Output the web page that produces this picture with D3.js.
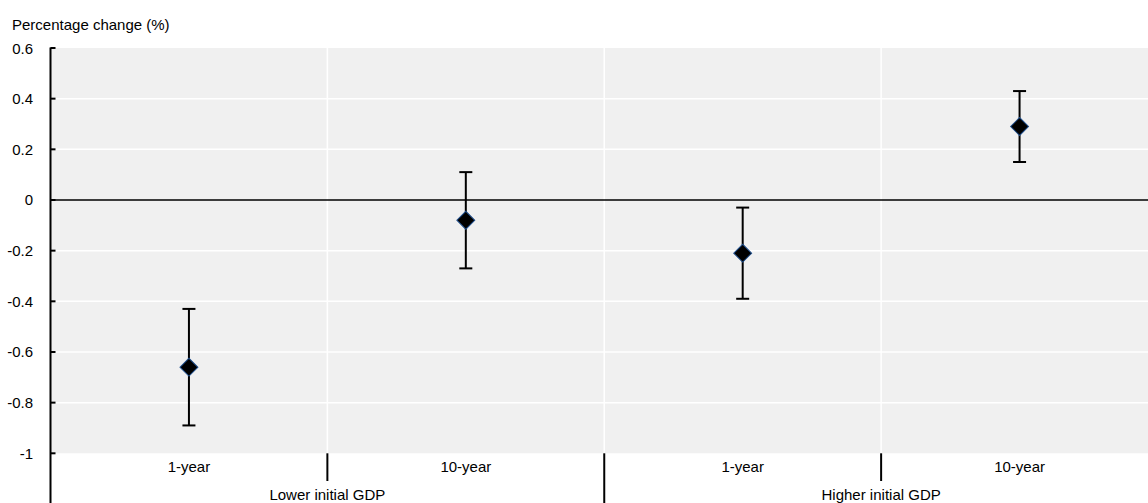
<!DOCTYPE html>
<html>
<head>
<meta charset="utf-8">
<script src="https://cdn.jsdelivr.net/npm/d3@7"></script>
<style>
  body { margin: 0; background: #fff; }
  text { font-family: "Liberation Sans", Arial, sans-serif; fill: #000; }
</style>
</head>
<body>
<svg id="chart" width="1148" height="503"></svg>
<script>
// data
const groups = ['Lower initial GDP', 'Higher initial GDP'];
const periods = ['1-year', '10-year'];
const estimate = [-0.66, -0.08, -0.21, 0.29];
const lower = [-0.89, -0.27, -0.39, 0.15];
const upper = [-0.43, 0.11, -0.03, 0.43];
const yTicks = [0.6, 0.4, 0.2, 0, -0.2, -0.4, -0.6, -0.8, -1];

const svg = d3.select('#chart');
const plotL = 50.5, plotT = 48, plotB = 453.3, plotR = 1158;

// one row per point
const rows = [];
groups.forEach((g, gi) => {
    periods.forEach((p, pi) => {
        const i = gi * periods.length + pi;
        rows.push({ key: g + '|' + p, group: g, period: p, est: estimate[i], lo: lower[i], hi: upper[i] });
    });
});

const x = d3.scaleBand().domain(rows.map(d => d.key)).range([plotL, plotR]);
const xg = d3.scaleBand().domain(groups).range([plotL, plotR]);
const y = d3.scaleLinear().domain([-1, 0.6]).range([plotB, plotT]);

// plot background
svg.append('rect')
    .attr('x', plotL).attr('y', plotT)
    .attr('width', plotR - plotL).attr('height', plotB - plotT)
    .attr('fill', '#f0f0f0');

// horizontal grid
svg.append('g').selectAll('line')
    .data(yTicks.filter(t => t !== 0 && t !== 0.6 && t !== -1))
    .join('line')
    .attr('x1', plotL).attr('x2', plotR)
    .attr('y1', d => y(d)).attr('y2', d => y(d))
    .attr('stroke', '#fff').attr('stroke-width', 1.5);

// vertical grid between categories
svg.append('g').selectAll('line')
    .data(rows.slice(1))
    .join('line')
    .attr('x1', d => x(d.key)).attr('x2', d => x(d.key))
    .attr('y1', plotT).attr('y2', plotB)
    .attr('stroke', '#fff').attr('stroke-width', 1.5);

// zero line
svg.append('line')
    .attr('x1', plotL).attr('x2', plotR)
    .attr('y1', y(0)).attr('y2', y(0))
    .attr('stroke', '#000').attr('stroke-width', 1.5);

// y axis
svg.append('line')
    .attr('x1', plotL).attr('x2', plotL)
    .attr('y1', plotT - 0.5).attr('y2', 503)
    .attr('stroke', '#000').attr('stroke-width', 2);

const yAxis = svg.append('g');
yAxis.selectAll('line')
    .data(yTicks)
    .join('line')
    .attr('x1', plotL).attr('x2', plotL + 5)
    .attr('y1', d => y(d)).attr('y2', d => y(d))
    .attr('stroke', '#000').attr('stroke-width', 2);
yAxis.selectAll('text')
    .data(yTicks)
    .join('text')
    .attr('x', 33).attr('y', d => y(d) + 5.5)
    .attr('text-anchor', 'end')
    .style('font-size', '15px')
    .text(d => String(d));

svg.append('text')
    .attr('x', 12).attr('y', 30)
    .style('font-size', '15px')
    .text('Percentage change (%)');

// category axis
svg.append('g').selectAll('text')
    .data(rows)
    .join('text')
    .attr('x', d => x(d.key) + x.bandwidth() / 2)
    .attr('y', 472)
    .attr('text-anchor', 'middle')
    .style('font-size', '15px')
    .text(d => d.period);

// short ticks inside groups
svg.append('g').selectAll('line')
    .data(rows.filter((d, i) => i % periods.length !== 0))
    .join('line')
    .attr('x1', d => x(d.key)).attr('x2', d => x(d.key))
    .attr('y1', plotB).attr('y2', 481)
    .attr('stroke', '#000').attr('stroke-width', 2);

// long ticks between groups
svg.append('g').selectAll('line')
    .data(groups.slice(1))
    .join('line')
    .attr('x1', d => xg(d)).attr('x2', d => xg(d))
    .attr('y1', plotB).attr('y2', 503)
    .attr('stroke', '#000').attr('stroke-width', 2);

svg.append('g').selectAll('text')
    .data(groups)
    .join('text')
    .attr('x', d => xg(d) + xg.bandwidth() / 2)
    .attr('y', 500)
    .attr('text-anchor', 'middle')
    .style('font-size', '15px')
    .text(d => d);

// error bars
const cx = d => x(d.key) + x.bandwidth() / 2;
const bars = svg.append('g');
bars.selectAll('.whisker')
    .data(rows)
    .join('line')
    .attr('x1', cx).attr('x2', cx)
    .attr('y1', d => y(d.hi)).attr('y2', d => y(d.lo))
    .attr('stroke', '#000').attr('stroke-width', 2);
['hi', 'lo'].forEach(k => {
    bars.append('g').selectAll('line')
        .data(rows)
        .join('line')
        .attr('x1', d => cx(d) - 6.5).attr('x2', d => cx(d) + 6.5)
        .attr('y1', d => y(d[k])).attr('y2', d => y(d[k]))
        .attr('stroke', '#000').attr('stroke-width', 2);
});

// diamonds
const diamond = d3.symbol().type(d3.symbolSquare).size(160);
svg.append('g').selectAll('path')
    .data(rows)
    .join('path')
    .attr('d', diamond)
    .attr('transform', d => `translate(${cx(d)},${y(d.est)}) rotate(45)`)
    .attr('fill', '#000')
    .attr('stroke', '#1f4e8c')
    .attr('stroke-width', 1);
</script>
</body>
</html>
